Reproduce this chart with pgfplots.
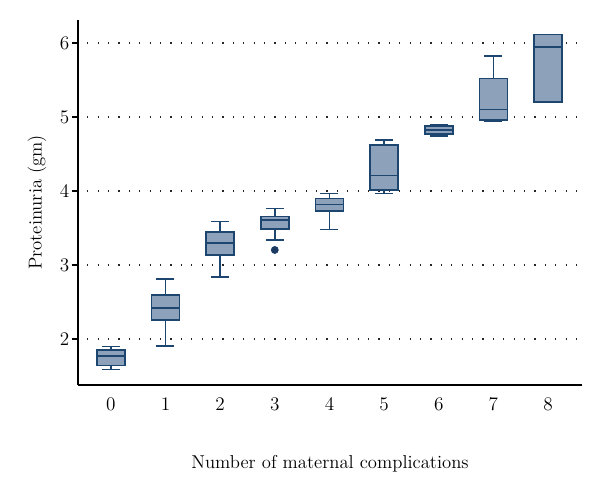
\documentclass[border=0pt]{standalone}
\usepackage{pgfplots}
\pgfplotsset{compat=1.18}
\usepgfplotslibrary{statistics}
\definecolor{boxEdge}{RGB}{28,70,112}
\definecolor{boxFill}{RGB}{141,162,186}
\definecolor{dotCol}{RGB}{26,58,98}

\begin{document}
\begin{tikzpicture}
  \begin{axis}[
    width=378pt,height=273.75pt,scale only axis,
    xmin=-0.6,xmax=8.62,ymin=1.378,ymax=6.311,
    axis x line*=bottom,axis y line*=left,
    axis line style={black,line width=0.9pt},
    xtick={0,...,8},ytick={2,...,6},
    tick align=outside,major tick length=4.5pt,
    x tick style={draw=none},
    y tick style={black,line width=0.9pt},
    tick label style={font=\fontsize{14}{16}\selectfont},
    xticklabel style={yshift=-2pt},
    yticklabel style={xshift=1.5pt},
    label style={font=\fontsize{14}{16}\selectfont},
    ymajorgrids=true,
    grid style={black!85,line width=0.9pt,dash pattern=on 0.9pt off 6.9pt,dash phase=0.9pt},
    xlabel={Number of maternal complications},
    ylabel={Proteinuria (gm)},
    xlabel style={at={(axis description cs:0.5,-0.2164)},anchor=center},
    ylabel style={at={(axis description cs:-0.0813,0.5)},anchor=center},
    boxplot/draw direction=y,
    boxplot/box extend=0.51,
    boxplot/whisker extend=0.33,
    boxplot/every box/.style={draw=boxEdge,fill=boxFill,line width=1.2pt},
    boxplot/every whisker/.style={draw=boxEdge,line width=1.2pt},
    boxplot/every median/.style={draw=boxEdge,line width=1.2pt},
    bx/.style={draw=boxEdge,fill=boxFill,line width=1.2pt,solid},
  ]
    \addplot[bx,boxplot prepared={draw position=0,lower whisker=1.585,lower quartile=1.639,median=1.766,upper quartile=1.847,upper whisker=1.896}] coordinates {};
    \addplot[bx,boxplot prepared={draw position=1,lower whisker=1.905,lower quartile=2.253,median=2.415,upper quartile=2.591,upper whisker=2.811}] coordinates {};
    \addplot[bx,boxplot prepared={draw position=2,lower whisker=2.834,lower quartile=3.131,median=3.297,upper quartile=3.442,upper whisker=3.585}] coordinates {};
    \addplot[bx,boxplot prepared={draw position=3,lower whisker=3.338,lower quartile=3.490,median=3.608,upper quartile=3.653,upper whisker=3.761}] coordinates {};
    \addplot[bx,boxplot prepared={draw position=4,lower whisker=3.477,lower quartile=3.730,median=3.815,upper quartile=3.901,upper whisker=3.964}] coordinates {};
    \addplot[bx,boxplot prepared={draw position=5,lower whisker=3.964,lower quartile=4.014,median=4.207,upper quartile=4.622,upper whisker=4.693}] coordinates {};
    \addplot[bx,boxplot prepared={draw position=6,lower whisker=4.743,lower quartile=4.770,median=4.824,upper quartile=4.878,upper whisker=4.901}] coordinates {};
    \addplot[bx,boxplot prepared={draw position=7,lower whisker=4.942,lower quartile=4.959,median=5.104,upper quartile=5.523,upper whisker=5.824}] coordinates {};
    \addplot[bx,boxplot prepared={draw position=8,lower whisker=5.199,lower quartile=5.199,median=5.942,upper quartile=6.113,upper whisker=6.113}] coordinates {};
    % outlier at 3 complications
    \addplot[only marks,mark=*,mark size=2.7pt,color=dotCol] coordinates {(3,3.203)};
  \end{axis}
  \pgfresetboundingbox
  \path[use as bounding box] (-58.5pt,-69pt) rectangle (391.5pt,288.75pt);
\end{tikzpicture}
\end{document}
